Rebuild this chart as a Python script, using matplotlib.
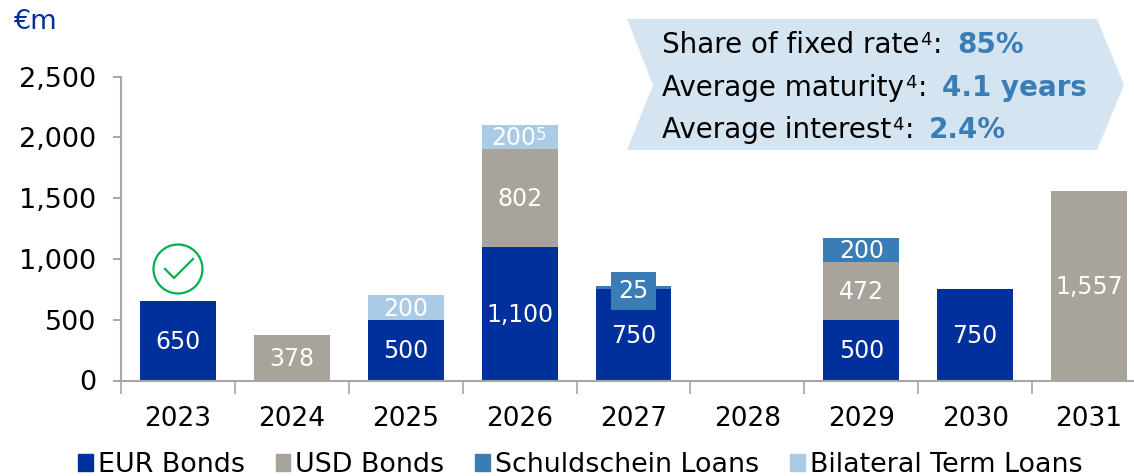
#!/usr/bin/env python3
# -*- coding: utf-8 -*-
"""
Debt maturity profile, stacked bars by instrument.
"""
import numpy as np
import matplotlib
matplotlib.use('Agg')
import matplotlib.pyplot as plt
from matplotlib.patches import Polygon, Circle, Patch
from matplotlib.lines import Line2D
from matplotlib.transforms import Affine2D

# data
years = ['2023', '2024', '2025', '2026', '2027', '2028', '2029', '2030', '2031']
eur_bonds = [650, 0, 500, 1100, 750, 0, 500, 750, 0]
usd_bonds = [0, 378, 0, 802, 0, 0, 472, 0, 1557]
schuldschein = [0, 0, 0, 0, 25, 0, 200, 0, 0]
bilateral = [0, 0, 200, 200, 0, 0, 0, 0, 0]
series_names = ['EUR Bonds', 'USD Bonds', 'Schuldschein Loans', 'Bilateral Term Loans']
y_ticks = [0, 500, 1000, 1500, 2000, 2500]
callout_lines = [('Share of fixed rate', '85%'),
                 ('Average maturity', '4.1 years'),
                 ('Average interest', '2.4%')]

colors = ['#00309C', '#A8A39B', '#3A7CB5', '#A9CBE5']
W, H = 1134, 476

plt.rcParams['font.family'] = ['DejaVu Sans']

fig = plt.figure(figsize=(W / 100, H / 100), dpi=100)
# axes runs a little past the right edge of the image, like the source
ax = fig.add_axes([121 / W, 1 - 380.5 / H, 1025 / W, 304 / H])

# pixel coordinates, y down from the top of the image
px = Affine2D().scale(1, -1).translate(0, H)


def text_run(x_px, y_px, parts):
    """Write (string, size, weight, color, rise) pieces one after the other."""
    renderer = fig.canvas.get_renderer()
    for string, size, weight, color, rise in parts:
        t = fig.text(0, 0, string, transform=px, fontsize=size, fontweight=weight,
                     color=color, va='baseline', ha='left')
        t.set_position((x_px, y_px - rise))
        x_px += t.get_window_extent(renderer).width + 1
    return x_px


x = np.arange(len(years))
bottom = np.zeros(len(years))
all_series = [eur_bonds, usd_bonds, schuldschein, bilateral]
for values, color in zip(all_series, colors):
    values = np.array(values)
    ax.bar(x, values, 0.667, bottom=bottom, color=color, zorder=2)
    for i, v in enumerate(values):
        if v == 0:
            continue
        mid = bottom[i] + v / 2
        if v == 25:
            # too thin for the label, so it gets its own box below the top
            ax.annotate(str(v), (i, bottom[i] + v), xytext=(0, -5), textcoords='offset pixels',
                        ha='center', va='center', color='white', fontsize=17, zorder=4,
                        bbox=dict(boxstyle='square,pad=0.3', fc=color, ec='none'))
        elif v == 200 and years[i] == '2026':
            t = ax.annotate(f'{v:,}', (i, mid), xytext=(-6, -1), textcoords='offset pixels',
                            ha='center', va='center', color='white', fontsize=17, zorder=3)
            ax.annotate('5', xy=(1, 1), xycoords=t, va='top', ha='left',
                        color='white', fontsize=12, zorder=3)
        else:
            ax.annotate(f'{v:,}', (i, mid), xytext=(0, -1), textcoords='offset pixels',
                        ha='center', va='center', color='white', fontsize=17, zorder=3)
    bottom += values

ax.set_xlim(-0.5, len(years) - 0.5)
ax.set_ylim(0, 2500)
ax.set_yticks(y_ticks)
ax.set_yticklabels([f'{v:,}' for v in y_ticks])
ax.set_xticks(x)
ax.set_xticklabels(years)
ax.set_xticks(np.arange(-0.5, len(years)), minor=True)
ax.tick_params(axis='x', which='major', length=0, labelsize=19, pad=18)
ax.tick_params(axis='x', which='minor', length=9, width=1.2, color='#A6A6A6')
ax.tick_params(axis='y', length=6, width=1.2, color='#999999', labelsize=19.5, pad=12)
for s in ['top', 'right']:
    ax.spines[s].set_visible(False)
for s in ['left', 'bottom']:
    ax.spines[s].set_color('#A6A6A6')
    ax.spines[s].set_linewidth(1.5)

fig.text(13 / W, 1 - 22 / H, '€m', color='#00309C', fontsize=19.5, va='center', ha='left')

# paid-off marker above 2023
fig.add_artist(Circle((178, 269), 24.5, transform=px, fc='none', ec='#00B050', lw=1.6))
fig.add_artist(Line2D([165, 174, 193], [269, 278, 259], transform=px, color='#00B050', lw=1.6))

# callout arrow
fig.add_artist(Polygon([(627, 19), (1097, 19), (1124, 85), (1097, 150), (627, 150), (653, 85)],
                       closed=True, transform=px, fc='#D5E4F1', ec='none'))
for (label, value), base in zip(callout_lines, [53, 96, 138]):
    end = text_run(662, base, [(label, 20, 'normal', 'black', 0),
                               ('4', 13, 'normal', 'black', 8),
                               (':', 20, 'normal', 'black', 0)])
    # the value starts a fixed gap after the colon
    text_run(end + 14, base, [(value, 20, 'bold', '#3A7CB5', 0)])

handles = [Patch(color=c, label=n) for c, n in zip(colors, series_names)]
fig.legend(handles=handles, loc='center left', bbox_to_anchor=(78 / W, 1 - 465 / H), ncol=4,
           frameon=False, fontsize=19.4, handlelength=0.55, handleheight=0.55, handletextpad=0.18,
           columnspacing=1.15, borderpad=0, borderaxespad=0)

fig.savefig('out.png', dpi=100)
